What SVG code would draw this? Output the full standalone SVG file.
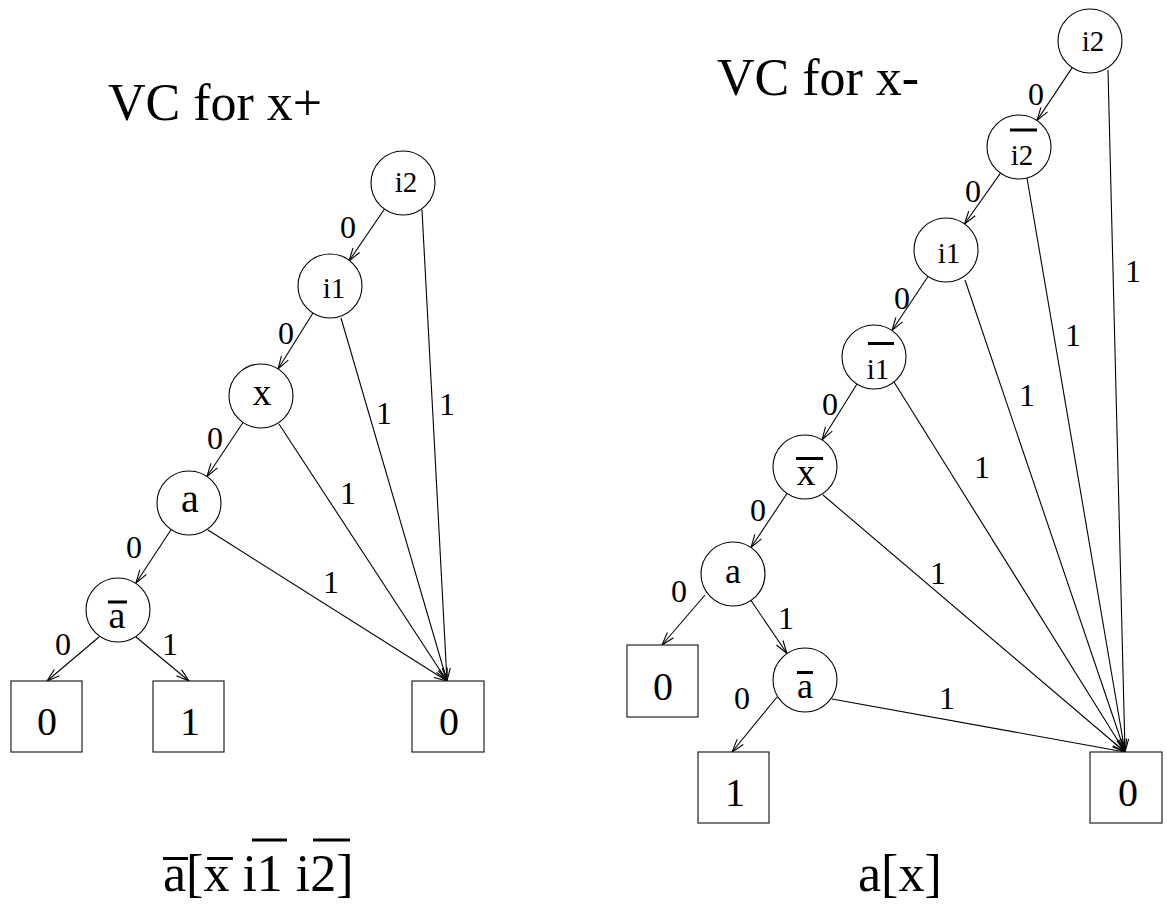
<svg xmlns="http://www.w3.org/2000/svg" width="1167" height="907" viewBox="0 0 1167 907">
<style>
.title{font-size:52px}
.lab{font-size:32px;text-anchor:middle}
.iv{font-size:29px;text-anchor:middle}
.big{font-size:38px;text-anchor:middle}
.box{font-size:40px;text-anchor:middle}
circle{fill:#fff;stroke:#000;stroke-width:1.1}
rect{fill:#fff;stroke:#222;stroke-width:1.2}
.bar{stroke:#000;stroke-width:3}
#edges line{stroke:#000;stroke-width:1.1;fill:none}
.arr{marker-end:url(#ah)}
</style>
<defs>
<marker id="ah" markerUnits="userSpaceOnUse" markerWidth="16" markerHeight="12" viewBox="-14 -6 16 12" refX="0" refY="0" orient="auto" overflow="visible">
<path d="M-13,-4 L0,0 L-13,4" fill="none" stroke="#000" stroke-width="1.1"/>
</marker>
</defs>
<rect x="0" y="0" width="1167" height="907" style="fill:#fff;stroke:none"/>

<g id="titles">
<text class="title" font-family="Liberation Serif" x="108" y="120">VC for x+</text>
<text class="title" font-family="Liberation Serif" x="717" y="95">VC for x-</text>
</g>

<g id="edges">
<line class="arr" x1="384.5" y1="209" x2="349" y2="261"/>
<line class="arr" x1="313" y1="313" x2="278" y2="369"/>
<line class="arr" x1="243" y1="422.5" x2="207" y2="476.5"/>
<line class="arr" x1="171" y1="529.7" x2="136" y2="583"/>
<line class="arr" x1="99" y1="637" x2="47" y2="681"/>
<line class="arr" x1="136" y1="637" x2="189" y2="681"/>
<line class="arr" x1="422" y1="210" x2="447" y2="681"/>
<line class="arr" x1="341" y1="318" x2="447" y2="681"/>
<line class="arr" x1="279" y1="424" x2="447" y2="681"/>
<line class="arr" x1="208" y1="530" x2="447" y2="681"/>
<line class="arr" x1="1072.2" y1="67.6" x2="1037" y2="120.4"/>
<line class="arr" x1="1000.5" y1="173.1" x2="964.5" y2="224"/>
<line class="arr" x1="928" y1="276.5" x2="892" y2="330.5"/>
<line class="arr" x1="857" y1="384" x2="822" y2="440"/>
<line class="arr" x1="787" y1="493.5" x2="751" y2="547.5"/>
<line class="arr" x1="705" y1="595" x2="662" y2="645"/>
<line class="arr" x1="751" y1="600.5" x2="787" y2="653.5"/>
<line class="arr" x1="777" y1="697" x2="732" y2="752"/>
<line class="arr" x1="832" y1="699" x2="1125" y2="752"/>
<line class="arr" x1="823" y1="495" x2="1125" y2="752"/>
<line class="arr" x1="894" y1="382" x2="1125" y2="752"/>
<line class="arr" x1="965" y1="280" x2="1125" y2="752"/>
<line class="arr" x1="1027" y1="178" x2="1125" y2="752"/>
<line class="arr" x1="1108" y1="70" x2="1125" y2="752"/>
</g>

<g id="edge-labels">
<text class="lab" font-family="Liberation Serif" x="348" y="238">0</text>
<text class="lab" font-family="Liberation Serif" x="286" y="344">0</text>
<text class="lab" font-family="Liberation Serif" x="384" y="424">1</text>
<text class="lab" font-family="Liberation Serif" x="447" y="415">1</text>
<text class="lab" font-family="Liberation Serif" x="215" y="449">0</text>
<text class="lab" font-family="Liberation Serif" x="348" y="504">1</text>
<text class="lab" font-family="Liberation Serif" x="134" y="558">0</text>
<text class="lab" font-family="Liberation Serif" x="331" y="593">1</text>
<text class="lab" font-family="Liberation Serif" x="63" y="655">0</text>
<text class="lab" font-family="Liberation Serif" x="170" y="655">1</text>
<text class="lab" font-family="Liberation Serif" x="1036" y="105">0</text>
<text class="lab" font-family="Liberation Serif" x="973" y="202">0</text>
<text class="lab" font-family="Liberation Serif" x="1133" y="282">1</text>
<text class="lab" font-family="Liberation Serif" x="902" y="309">0</text>
<text class="lab" font-family="Liberation Serif" x="1073" y="346">1</text>
<text class="lab" font-family="Liberation Serif" x="830" y="415">0</text>
<text class="lab" font-family="Liberation Serif" x="1027" y="406">1</text>
<text class="lab" font-family="Liberation Serif" x="982" y="478">1</text>
<text class="lab" font-family="Liberation Serif" x="758" y="521">0</text>
<text class="lab" font-family="Liberation Serif" x="938" y="584">1</text>
<text class="lab" font-family="Liberation Serif" x="679" y="602">0</text>
<text class="lab" font-family="Liberation Serif" x="786" y="629">1</text>
<text class="lab" font-family="Liberation Serif" x="742" y="709">0</text>
<text class="lab" font-family="Liberation Serif" x="947" y="709">1</text>
</g>

<g id="L-i2"><circle cx="403" cy="183" r="32"/><text class="iv" font-family="Liberation Serif" x="406" y="192">i2</text></g>
<g id="L-i1"><circle cx="330" cy="286" r="32"/><text class="iv" font-family="Liberation Serif" x="334" y="298">i1</text></g>
<g id="L-x"><circle cx="261" cy="396" r="32"/><text class="big" font-family="Liberation Serif" x="262" y="405">x</text></g>
<g id="L-a"><circle cx="189" cy="503" r="32"/><text class="big" font-family="Liberation Serif" style="font-size:40px" x="190" y="512">a</text></g>
<g id="L-abar"><circle cx="118" cy="610" r="32"/><text class="big" font-family="Liberation Serif" x="117" y="628">a</text><line class="bar" x1="108" y1="602" x2="127" y2="602"/></g>
<g id="L-t0a"><rect x="11" y="681" width="71" height="71"/><text class="box" font-family="Liberation Serif" x="47" y="735">0</text></g>
<g id="L-t1"><rect x="153" y="681" width="71" height="71"/><text class="box" font-family="Liberation Serif" x="190" y="735">1</text></g>
<g id="L-t0b"><rect x="412" y="681" width="72" height="71"/><text class="box" font-family="Liberation Serif" x="449" y="735">0</text></g>

<g id="R-i2"><circle cx="1090" cy="41" r="32"/><text class="iv" font-family="Liberation Serif" x="1093" y="51">i2</text></g>
<g id="R-i2bar"><circle cx="1019" cy="147" r="32"/><text class="iv" font-family="Liberation Serif" x="1022" y="165">i2</text><line class="bar" x1="1010" y1="130" x2="1037" y2="130"/></g>
<g id="R-i1"><circle cx="946" cy="250" r="32"/><text class="iv" font-family="Liberation Serif" x="949" y="263">i1</text></g>
<g id="R-i1bar"><circle cx="874" cy="357" r="32"/><text class="iv" font-family="Liberation Serif" x="878" y="379">i1</text><line class="bar" x1="868" y1="343.5" x2="894" y2="343.5"/></g>
<g id="R-xbar"><circle cx="805" cy="467" r="32"/><text class="big" font-family="Liberation Serif" x="806" y="485">x</text><line class="bar" x1="796" y1="458.5" x2="823" y2="458.5"/></g>
<g id="R-a"><circle cx="733" cy="574" r="32"/><text class="big" font-family="Liberation Serif" style="font-size:36px" x="733" y="583">a</text></g>
<g id="R-abar"><circle cx="805" cy="680" r="32"/><text class="big" font-family="Liberation Serif" style="font-size:36px" x="805" y="698">a</text><line class="bar" x1="797" y1="672.5" x2="813" y2="672.5"/></g>
<g id="R-t0a"><rect x="627" y="645" width="71" height="72"/><text class="box" font-family="Liberation Serif" x="663" y="700">0</text></g>
<g id="R-t1"><rect x="698" y="752" width="71" height="71"/><text class="box" font-family="Liberation Serif" x="735" y="806">1</text></g>
<g id="R-t0b"><rect x="1090" y="752" width="72" height="71"/><text class="box" font-family="Liberation Serif" x="1128" y="806">0</text></g>

<g id="formulas">
<text class="title" font-family="Liberation Serif" x="163" y="891">a[x i1 i2]</text>
<line class="bar" x1="163" y1="858.5" x2="188" y2="858.5"/>
<line class="bar" x1="207" y1="858.5" x2="233" y2="858.5"/>
<line class="bar" x1="252" y1="840" x2="287" y2="840"/>
<line class="bar" x1="313" y1="840" x2="350" y2="840"/>
<text class="title" font-family="Liberation Serif" x="858" y="891">a[x]</text>
</g>
</svg>
